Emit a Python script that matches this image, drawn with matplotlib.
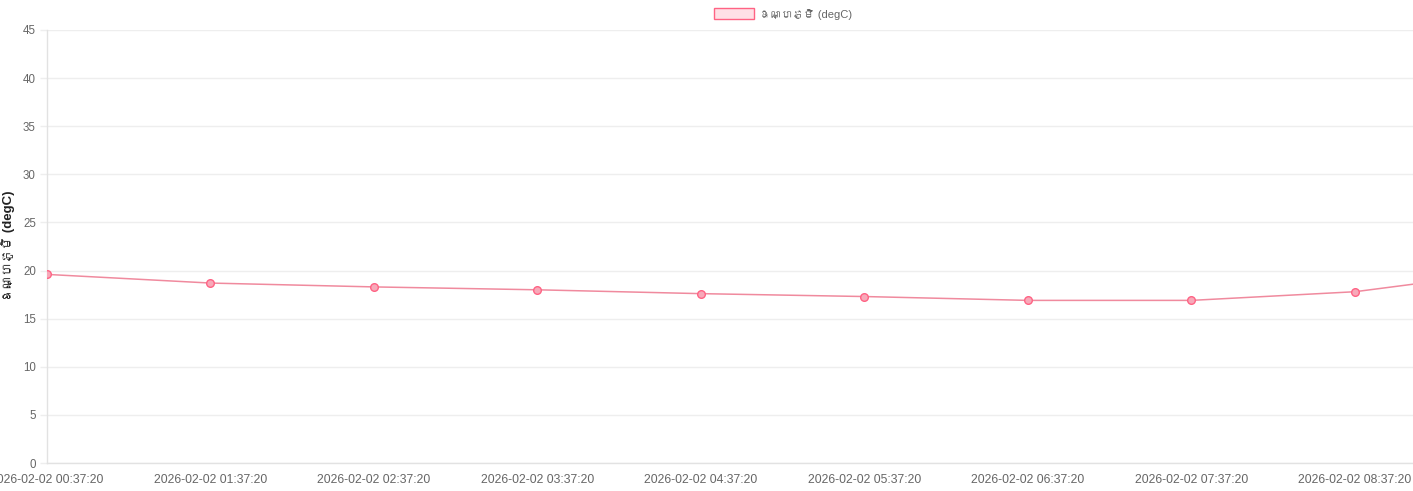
import datetime as dt
import matplotlib
matplotlib.use("Agg")
import matplotlib.pyplot as plt
from matplotlib import font_manager
from matplotlib.patches import Patch

# ---- data ----
times = ["2026-02-02 00:37:20", "2026-02-02 01:37:20", "2026-02-02 02:37:20",
         "2026-02-02 03:37:20", "2026-02-02 04:37:20", "2026-02-02 05:37:20",
         "2026-02-02 06:37:20", "2026-02-02 07:37:20", "2026-02-02 08:37:20",
         "2026-02-02 09:37:20"]
temps = [19.6, 18.7, 18.3, 18.0, 17.6, 17.3, 16.9, 16.9, 17.8, 20.0]
series_label = "ឧណ្ហភូមិ (degC)"
y_label = "ឧណ្ហភូមិ (degC)"
y_ticks = [0, 5, 10, 15, 20, 25, 30, 35, 40, 45]


def find_khmer_fonts():
    found = []
    try:
        from fontTools.ttLib import TTFont
    except Exception:
        return found
    for f in font_manager.fontManager.ttflist:
        try:
            t = TTFont(f.fname, fontNumber=0, lazy=True)
            cmap = t.getBestCmap()
            if cmap and 0x1780 in cmap and 0x17D2 in cmap:
                found.append(f.name)
        except Exception:
            pass
    return found


kh_all = find_khmer_fonts()
kh_pref = [n for n in kh_all if "mono" not in n.lower()] + [n for n in kh_all if "mono" in n.lower()]
kh = kh_pref[0] if kh_pref else None
families = ["Liberation Sans"] + ([kh] if kh else []) + ["DejaVu Sans"]
plt.rcParams["font.family"] = families

x = [dt.datetime.strptime(t, "%Y-%m-%d %H:%M:%S") for t in times]

fig = plt.figure(figsize=(14.13, 4.91), dpi=100)
ax = fig.add_axes([47 / 1413, 1 - 463 / 491, 1 - 47 / 1413, (463 - 30) / 491])

ax.plot(x, temps, color="#f08a9e", lw=1.1, marker="o", ms=5.5,
        markerfacecolor="#f7a9b9", markeredgecolor="#ff6384", markeredgewidth=1,
        zorder=3)

ax.set_ylim(0, 45)
ax.set_yticks(y_ticks)
ax.set_xticks(x)
ax.set_xticklabels(times)
ax.set_xlim(x[0], x[0] + dt.timedelta(hours=8.355))

ax.grid(axis="y", color="#eeeeee", lw=1)
ax.grid(axis="x", visible=False)
ax.set_axisbelow(True)
for s in ["top", "right"]:
    ax.spines[s].set_visible(False)
for s in ["left", "bottom"]:
    ax.spines[s].set_color("#e2e2e2")
    ax.spines[s].set_linewidth(1)

ax.tick_params(axis="y", length=5, width=1, color="#eeeeee", pad=3,
               labelsize=8.3, labelcolor="#666666")
ax.tick_params(axis="x", length=0, pad=8, labelsize=8.8, labelcolor="#666666")

ax.set_ylabel(y_label, fontsize=9.5, fontweight="bold", color="#222222")
ax.yaxis.set_label_coords(-32 / 1366, 0.5)

handle = Patch(facecolor="#ffe0e6", edgecolor="#ff6384", lw=1)
fig.legend([handle], [series_label], loc="center", bbox_to_anchor=(783 / 1413, 1 - 14 / 491),
           frameon=False, fontsize=8, labelcolor="#666666", handlelength=3.6,
           handleheight=1.1, handletextpad=0.4)

fig.savefig("out.png", dpi=100)
